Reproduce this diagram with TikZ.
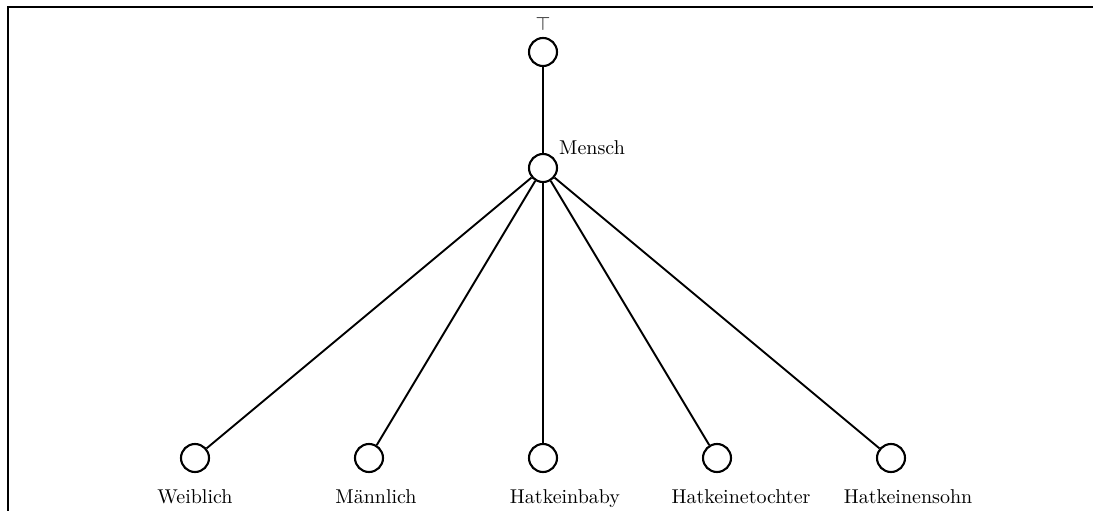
\documentclass[tikz,border=0pt]{standalone}
\usepackage{graphicx}
\newcommand{\lbltxt}[1]{\scalebox{2.0}{\normalsize #1}}
\begin{document}
\begin{tikzpicture}[x=1pt,y=-1pt,
  vert/.style={circle,draw,line width=2.1pt,minimum size=28pt,inner sep=0pt},
  edge/.style={line width=1.9pt},
  lbl/.style={inner sep=0pt}]
\useasboundingbox (0,0) rectangle (1093,511);
\draw[line width=2.4pt] (8,511) -- (8,7) -- (1093,7);
\node[vert] (top) at (543,52) {};
\node[vert] (mensch) at (543,168) {};
\node[vert] (w) at (195,458) {};
\node[vert] (m) at (369,458) {};
\node[vert] (b) at (543,458) {};
\node[vert] (t) at (717,458) {};
\node[vert] (s) at (891,458) {};
\node[lbl] (ltop) at (543,24) {\scalebox{1.9}{\normalsize$\top$}};
\node[lbl,anchor=west] (lmensch) at (559,148) {\lbltxt{Mensch}};
\node[lbl,anchor=base] (lw) at (195,503) {\lbltxt{Weiblich}};
\node[lbl,anchor=base] (lm) at (376,503) {\lbltxt{M\"annlich}};
\node[lbl,anchor=base] (lb) at (565,503) {\lbltxt{Hatkeinbaby}};
\node[lbl,anchor=base] (lt) at (741,503) {\lbltxt{Hatkeinetochter}};
\node[lbl,anchor=base] (ls) at (908,503) {\lbltxt{Hatkeinensohn}};
\draw[edge] (top) -- (mensch);
\draw[edge] (mensch) -- (w);
\draw[edge] (mensch) -- (m);
\draw[edge] (mensch) -- (b);
\draw[edge] (mensch) -- (t);
\draw[edge] (mensch) -- (s);
\end{tikzpicture}
\end{document}
